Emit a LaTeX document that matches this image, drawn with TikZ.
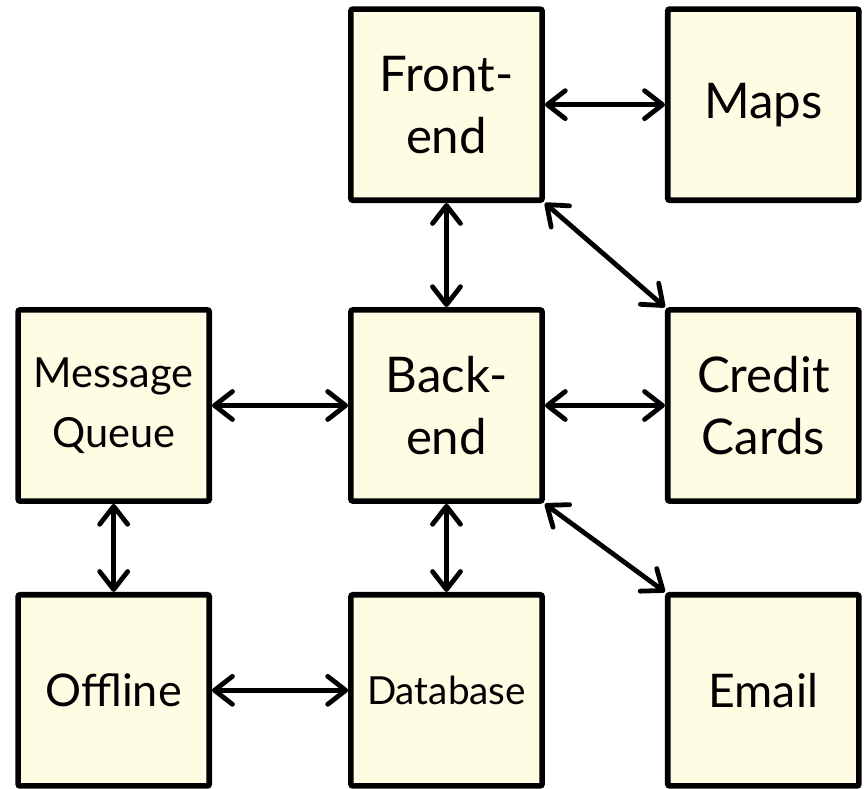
\documentclass[tikz,border=0pt]{standalone}
\usepackage{fontspec}
\setmainfont{Lato}
\usepackage{tikz}
\usetikzlibrary{positioning,arrows.meta}
\definecolor{boxfill}{RGB}{255,252,228}
\tikzset{
	>={Straight Barb[length=4.5mm,width=7mm,line cap=round,line join=round]},
	node distance=3cm,
	service/.style={draw, line width=4pt, rounded corners=1.5pt, fill=boxfill,
		minimum width=4.78cm, minimum height=4.78cm, align=center, inner sep=0pt},
	big/.style={font=\fontsize{35}{44}\selectfont},
	mid/.style={font=\fontsize{29.5}{43}\selectfont},
	small/.style={font=\fontsize{27.5}{32}\selectfont},
	link/.style={<->, line width=3.4pt, line cap=round},
}

\begin{document}
\begin{tikzpicture}
	% middle row
	\node[service, big] (backend) at (0,0) {Back-\\end};
	\node[service, mid, left=3.4cm of backend] (queue) {Message\\Queue};
	\node[service, big, right=3cm of backend] (cards) {Credit\\Cards};
	% top row
	\node[service, big, above=2.6cm of backend] (frontend) {Front-\\end};
	\node[service, big, above=2.6cm of cards] (maps) {Maps};
	% bottom row
	\node[service, small, below=2.2cm of backend] (db) {Database};
	\node[service, font=\fontsize{32}{39}\selectfont, below=2.2cm of queue] (offline) {Offline};
	\node[service, font=\fontsize{33}{40}\selectfont, below=2.2cm of cards] (email) {Email};

	\draw[link] (frontend) -- (maps);
	\draw[link] (frontend) -- (backend);
	\draw[link] (frontend.south east) -- (cards.north west);
	\draw[link] (queue) -- (backend);
	\draw[link] (backend) -- (cards);
	\draw[link] (queue) -- (offline);
	\draw[link] (backend) -- (db);
	\draw[link] (backend.south east) -- (email.north west);
	\draw[link] (offline) -- (db);

	\useasboundingbox (-11.1625,10.1375) rectangle (10.5125,-9.5875);
\end{tikzpicture}
\end{document}
